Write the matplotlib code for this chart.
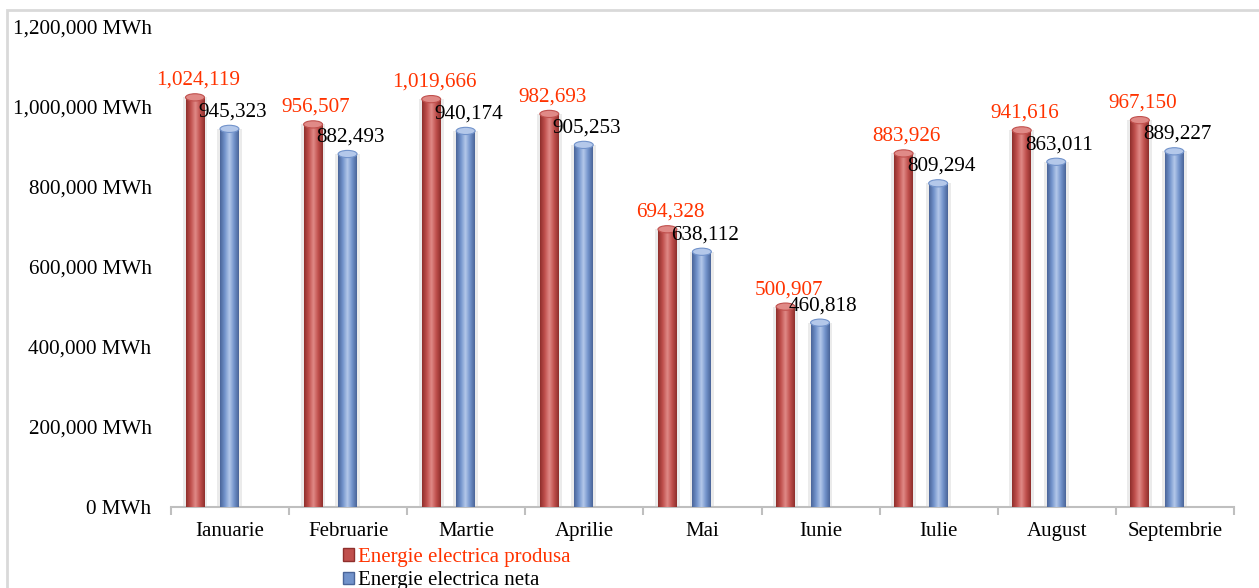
import matplotlib
matplotlib.use("Agg")
import matplotlib.pyplot as plt
import numpy as np
from matplotlib.patches import Rectangle, Ellipse, Patch
from matplotlib.ticker import FuncFormatter

plt.rcParams['font.family'] = ['Liberation Serif', 'DejaVu Serif']

months = ['Ianuarie', 'Februarie', 'Martie', 'Aprilie', 'Mai', 'Iunie',
          'Iulie', 'August', 'Septembrie']
produsa = [1024119, 956507, 1019666, 982693, 694328, 500907, 883926, 941616, 967150]
neta = [945323, 882493, 940174, 905253, 638112, 460818, 809294, 863011, 889227]
series_names = ['Energie electrica produsa', 'Energie electrica neta']

W, H = 1259, 588
fig = plt.figure(figsize=(W / 100, H / 100), dpi=100)
ax = fig.add_axes([171 / W, (H - 507) / H, (1234 - 171) / W, 480 / H])

x = np.arange(len(months))
bw = 0.16
red_c, red_dark, red_light = '#c0504d', '#8f2f2c', '#e08a87'
blue_c, blue_dark, blue_light = '#7293cb', '#4a6599', '#b4c8ea'
red_lab = '#ff3300'

def gradient_bars(xs, vals, base, dark, light, zbase):
    ax.bar(xs, vals, width=bw + 0.05, color='#ebebeb',
           zorder=zbase - 1, linewidth=0)
    bars = ax.bar(xs, vals, width=bw, color=base, zorder=zbase, linewidth=0)
    cmap = matplotlib.colors.LinearSegmentedColormap.from_list(
        'g', [dark, base, light, base, dark])
    grad = np.linspace(0, 1, 64).reshape(1, -1)
    for b in bars:
        x0, w, h = b.get_x(), b.get_width(), b.get_height()
        im = ax.imshow(grad, extent=[x0, x0 + w, 0, h], aspect='auto',
                       cmap=cmap, zorder=zbase + 0.1, origin='lower')
        im.set_clip_path(b)
        cap = Ellipse((x0 + w / 2, h), w, 18000, facecolor=light,
                      edgecolor=base, linewidth=0.8, zorder=zbase + 0.2)
        ax.add_patch(cap)
    return bars

gradient_bars(x - 0.297, produsa, red_c, red_dark, red_light, 3)
gradient_bars(x - 0.005, neta, blue_c, blue_dark, blue_light, 3)

for xi, v in zip(x - 0.297, produsa):
    ax.annotate(f'{v:,}', (xi, v), xytext=(3, 17), textcoords='offset pixels',
                ha='center', va='center', color=red_lab, fontsize=15.2, zorder=6)
for xi, v in zip(x - 0.005, neta):
    ax.annotate(f'{v:,}', (xi, v), xytext=(3, 17), textcoords='offset pixels',
                ha='center', va='center', color='black', fontsize=15.2, zorder=6)

ax.set_xlim(-0.5, len(months) - 0.5)
ax.set_ylim(0, 1200000)
ax.set_yticks(np.arange(0, 1200001, 200000))
ax.yaxis.set_major_formatter(FuncFormatter(lambda v, p: f'{int(v):,} MWh'))
ax.tick_params(axis='y', length=0, pad=14, labelsize=15.2)
ax.set_xticks(x)
ax.set_xticklabels(months, fontsize=15)
ax.tick_params(axis='x', length=0, pad=11)
ax.set_xticks(np.arange(-0.5, len(months), 1.0), minor=True)
ax.tick_params(axis='x', which='minor', length=6, color='#bfbfbf', width=1.5)
for s in ['left', 'right', 'top']:
    ax.spines[s].set_visible(False)
ax.spines['bottom'].set_color('#bfbfbf')
ax.spines['bottom'].set_linewidth(1.5)
ax.patch.set_visible(False)

handles = [Patch(facecolor=red_c, edgecolor=red_dark),
           Patch(facecolor=blue_c, edgecolor=blue_dark)]
leg = fig.legend(handles, series_names, loc='upper left',
                 bbox_to_anchor=(343 / W, (H - 548) / H), frameon=False,
                 fontsize=15, handlelength=0.55, handleheight=0.55,
                 handletextpad=0.15, labelspacing=0.2, borderpad=0,
                 borderaxespad=0)
leg.get_texts()[0].set_color(red_lab)

fig.add_artist(Rectangle((7 / W, -0.05), 1.2, (H - 10) / H + 0.05,
                         transform=fig.transFigure, fill=False,
                         edgecolor='#d9d9d9', linewidth=2))

fig.savefig('out.png', dpi=100, facecolor='white')
